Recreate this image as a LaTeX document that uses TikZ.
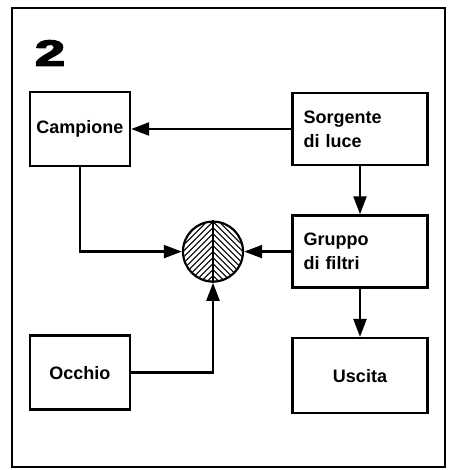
\documentclass[tikz,border=0pt]{standalone}
\usepackage{fontspec}
\setmainfont{Liberation Sans}
\newfontfamily\heavyfont[FakeBold=4]{Liberation Sans Bold}
\usepackage{tikz}
\usetikzlibrary{arrows.meta,positioning}

\begin{document}
\begin{tikzpicture}[
  x=1pt, y=1pt,
  node distance=48pt,
  box/.style={rectangle, draw, line width=2.6pt, minimum width=100pt, minimum height=74pt, font=\fontsize{18}{24}\selectfont\bfseries, align=center},
  wbox/.style={box, minimum width=135pt, minimum height=72pt, text width=113pt, align=left},
  hatch/.style={line width=1pt},
  arrow/.style={-{Triangle[length=18pt,width=13pt]}, line width=2.3pt}
]
\useasboundingbox (0,0) rectangle (448,470);
\draw[line width=2pt] (12,3) rectangle (445,462);

\node[font=\fontsize{36}{36}\heavyfont] (fig) at (50,417) {\scalebox{1.5}[1]{2}};

\node[wbox] (sorg) at (360,341) {Sorgente\\di luce};
\node[wbox, below=of sorg] (grup) {Gruppo\\di filtri};
\node[box, minimum width=135pt, minimum height=75pt, below=of grup] (usc) {Uscita};
\node[box, left=160pt of sorg] (camp) {Campione};
\node[box, below=167pt of camp] (occ) {Occhio};
\node[circle, minimum size=62pt, inner sep=0pt, left=47pt of grup] (eye) {};

% mezzo cerchio sinistro
\begin{scope}
  \clip (eye.center) circle (29pt);
  \clip ([shift={(-32pt,-32pt)}]eye.center) rectangle (eye.north);
  \foreach \k in {-60,-54,...,60}
    \draw[hatch] ([shift={(\k pt-35pt,-35pt)}]eye.center) -- ++(70pt,70pt);
\end{scope}
% mezzo cerchio destro
\begin{scope}
  \clip (eye.center) circle (29pt);
  \clip ([shift={(32pt,-32pt)}]eye.center) rectangle (eye.north);
  \foreach \k in {-60,-54,...,60}
    \draw[hatch] ([shift={(\k pt-35pt,35pt)}]eye.center) -- ++(70pt,-70pt);
\end{scope}
\draw[line width=2.2pt] (eye.center) circle (30pt);
\draw[line width=1.5pt] (eye.north) -- (eye.south);

\draw[arrow] (sorg) -- (camp);
\draw[arrow] (sorg) -- (grup);
\draw[arrow] (grup) -- (usc);
\draw[arrow] (grup) -- (eye);
\draw[arrow] (camp) |- (eye);
\draw[arrow] (occ) -| (eye);
\end{tikzpicture}
\end{document}
